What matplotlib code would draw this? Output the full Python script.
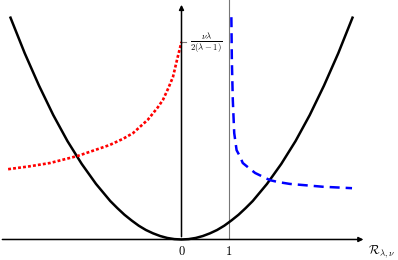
import matplotlib
matplotlib.use('Agg')
from matplotlib import pyplot as plt

plt.rcParams['mathtext.fontset'] = 'cm'

# black parabola
para_x = [-3.6, -3.3, -3.0, -2.7, -2.4, -2.1, -1.8, -1.5, -1.35, -1.2, -1.05, -0.9, -0.75, -0.6,
          -0.45, -0.3, -0.15, 0.0, 0.15, 0.3, 0.45, 0.6, 0.75, 0.9, 1.05, 1.2, 1.35, 1.5,
          1.8, 2.1, 2.4, 2.7, 3.0, 3.3, 3.6]
para_y = [4.67, 3.92, 3.24, 2.62, 2.07, 1.59, 1.17, 0.81, 0.66, 0.52, 0.40, 0.29, 0.20, 0.13,
          0.073, 0.032, 0.008, 0.0, 0.008, 0.032, 0.073, 0.13, 0.20, 0.29, 0.40, 0.52, 0.66, 0.81,
          1.17, 1.59, 2.07, 2.62, 3.24, 3.92, 4.67]

# red dotted branch (left of 0)
red_x = [-3.65, -3.2, -2.77, -2.18, -1.51, -1.23, -1.02, -0.71, -0.5, -0.39, -0.28, -0.18, -0.09, 0.0]
red_y = [1.48, 1.54, 1.61, 1.76, 1.99, 2.12, 2.24, 2.52, 2.78, 2.94, 3.18, 3.42, 3.80, 4.16]

# blue dashed branch (right of 1)
blue_x = [1.05, 1.06, 1.08, 1.11, 1.16, 1.23, 1.29, 1.40, 1.55, 1.86, 2.03, 2.28, 2.98, 3.59]
blue_y = [4.68, 3.78, 2.94, 2.24, 1.88, 1.75, 1.61, 1.52, 1.40, 1.25, 1.21, 1.17, 1.11, 1.08]

tick_pos = [0, 1]
tick_labels = ['$0$', '$1$']
level = 4.16

fig = plt.figure(figsize=(3.98, 2.6), dpi=100)
ax = fig.add_axes([0, 0, 1, 1])
ax.set_xlim(-3.821, 4.558)
ax.set_ylim(-0.432, 5.042)
ax.axis('off')

# axes with arrows
ax.annotate('', xy=(3.89, 0), xytext=(-3.83, 0),
            arrowprops=dict(arrowstyle='-|>', lw=1.1, color='black', mutation_scale=7))
ax.annotate('', xy=(0, 5.0), xytext=(0, 0),
            arrowprops=dict(arrowstyle='-|>', lw=1.1, color='black', mutation_scale=7))

# vertical line at 1
ax.plot([1, 1], [0, 5.1], color='#777777', lw=0.8)

# curves
ax.plot(para_x, para_y, color='black', lw=1.8)
ax.plot(red_x, red_y, color='red', lw=1.9, dashes=(1.1, 0.8))
ax.plot(blue_x, blue_y, color='blue', lw=1.8, dashes=(4.0, 2.4))

# small tick on y axis and its label
ax.plot([0, 0.1], [level, level], color='#777777', lw=0.8)
ax.text(0.18, level, r'$\frac{\nu\lambda}{2(\lambda-1)}$', fontsize=9, ha='left', va='center')

for p, lab in zip(tick_pos, tick_labels):
    ax.text(p, -0.26, lab, fontsize=9, ha='center', va='center')

ax.text(3.93, -0.26, r'$\mathcal{R}_{\lambda,\nu}$', fontsize=9, ha='left', va='center')

plt.savefig('out.png', dpi=100)
